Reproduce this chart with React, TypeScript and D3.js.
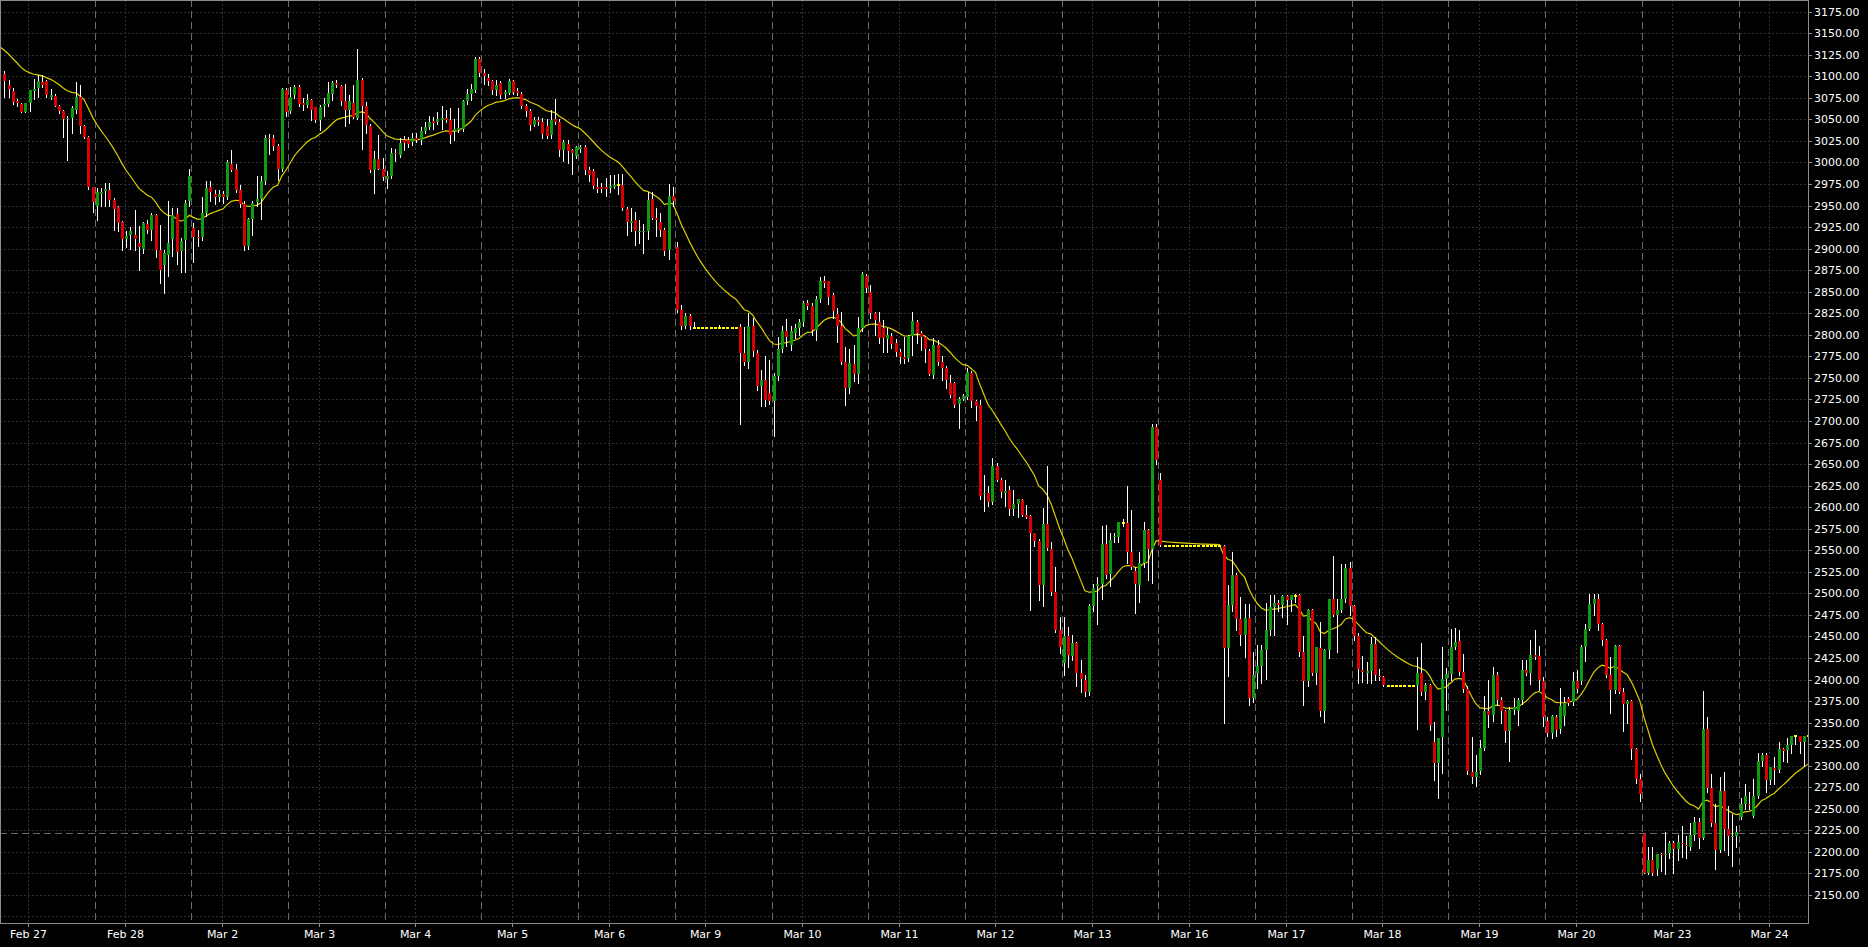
import React, { useEffect } from "react";
import * as d3 from "d3";

type Candle = [number, number, number, number]; // open, high, low, close

// ---------- DATA (hourly candles) ----------
const feb27: Candle[] = [
  [3103, 3106, 3076, 3095], [3090, 3096, 3076, 3085], [3083, 3086, 3068, 3070], [3071, 3074, 3066, 3069],
  [3068, 3069, 3059, 3059], [3059, 3069, 3059, 3069], [3069, 3084, 3060, 3084], [3083, 3097, 3074, 3085],
  [3087, 3101, 3076, 3095], [3093, 3101, 3088, 3090], [3094, 3096, 3076, 3078], [3076, 3085, 3074, 3078],
  [3077, 3079, 3066, 3066], [3066, 3067, 3058, 3060], [3060, 3061, 3030, 3050], [3050, 3054, 3003, 3052],
  [3052, 3065, 3034, 3063], [3061, 3093, 3058, 3076], [3076, 3090, 3034, 3042], [3042, 3043, 3028, 3030],
  [3030, 3031, 2969, 2972], [2971, 2972, 2942, 2954],
];
const feb28: Candle[] = [
  [2949, 2970, 2933, 2966], [2964, 2970, 2950, 2966], [2967, 2976, 2949, 2969], [2968, 2976, 2949, 2957],
  [2957, 2959, 2922, 2946], [2948, 2949, 2921, 2930], [2931, 2932, 2899, 2911], [2911, 2920, 2902, 2915],
  [2916, 2925, 2900, 2921], [2916, 2945, 2898, 2911], [2907, 2926, 2875, 2902], [2900, 2931, 2895, 2930],
  [2929, 2933, 2918, 2922], [2922, 2941, 2910, 2939], [2939, 2940, 2890, 2899], [2899, 2927, 2860, 2875],
  [2881, 2898, 2849, 2895], [2893, 2955, 2868, 2907], [2911, 2947, 2892, 2939], [2940, 2947, 2882, 2896],
  [2897, 2912, 2873, 2909], [2910, 2957, 2873, 2953], [2955, 2993, 2950, 2984],
];
const mar02: Candle[] = [
  [2924, 2930, 2885, 2914], [2914, 2922, 2903, 2912], [2914, 2960, 2910, 2941], [2941, 2978, 2938, 2970],
  [2971, 2978, 2955, 2966], [2964, 2968, 2952, 2960], [2960, 2968, 2955, 2963], [2964, 2967, 2953, 2960],
  [2960, 3003, 2958, 3000], [2998, 3015, 2990, 2991], [2992, 2998, 2966, 2968], [2968, 2974, 2948, 2952],
  [2952, 2955, 2898, 2903], [2903, 2936, 2900, 2934], [2935, 2955, 2916, 2953], [2954, 2984, 2950, 2958],
  [2958, 2984, 2935, 2978], [2978, 3032, 2975, 3029], [3029, 3033, 3010, 3027], [3029, 3032, 3015, 3019],
  [3019, 3022, 2980, 2993], [2993, 3086, 2990, 3085], [3084, 3086, 3054, 3059],
];
const mar03: Candle[] = [
  [3060, 3088, 3058, 3076], [3078, 3090, 3075, 3088], [3088, 3090, 3066, 3068], [3069, 3075, 3061, 3067],
  [3067, 3080, 3064, 3072], [3072, 3074, 3049, 3061], [3064, 3064, 3047, 3049], [3049, 3067, 3038, 3064],
  [3065, 3075, 3054, 3068], [3068, 3093, 3066, 3081], [3080, 3094, 3072, 3092], [3092, 3096, 3088, 3090],
  [3089, 3090, 3067, 3071], [3071, 3091, 3042, 3061], [3061, 3078, 3046, 3071], [3069, 3090, 3052, 3053],
  [3052, 3132, 3050, 3096], [3096, 3098, 3016, 3065], [3065, 3070, 3034, 3044], [3042, 3045, 2989, 2991],
  [2991, 3013, 2965, 3004], [3004, 3032, 2992, 2993], [2992, 3005, 2980, 2983],
];
const mar04: Candle[] = [
  [2981, 2990, 2970, 2984], [2984, 3017, 2982, 3011], [3011, 3016, 3002, 3010], [3009, 3028, 3006, 3023],
  [3026, 3031, 3015, 3023], [3026, 3030, 3018, 3022], [3024, 3034, 3020, 3029], [3029, 3034, 3024, 3026],
  [3026, 3041, 3022, 3036], [3036, 3047, 3034, 3041], [3041, 3054, 3039, 3047], [3048, 3053, 3039, 3046],
  [3047, 3059, 3045, 3051], [3049, 3066, 3039, 3052], [3052, 3061, 3047, 3049], [3049, 3063, 3023, 3032],
  [3036, 3051, 3026, 3039], [3038, 3063, 3035, 3040], [3039, 3072, 3037, 3071], [3071, 3085, 3068, 3080],
  [3080, 3091, 3072, 3085], [3084, 3123, 3082, 3120], [3120, 3123, 3100, 3104],
];
const mar05: Candle[] = [
  [3104, 3108, 3091, 3100], [3098, 3103, 3090, 3094], [3094, 3096, 3079, 3084], [3084, 3096, 3078, 3090],
  [3092, 3094, 3075, 3078], [3080, 3084, 3075, 3082], [3081, 3097, 3079, 3094], [3094, 3096, 3080, 3082],
  [3083, 3086, 3078, 3081], [3080, 3082, 3063, 3066], [3066, 3068, 3054, 3060], [3060, 3062, 3038, 3044],
  [3044, 3053, 3042, 3049], [3049, 3053, 3044, 3047], [3047, 3052, 3028, 3033], [3042, 3051, 3028, 3031],
  [3032, 3061, 3028, 3049], [3050, 3074, 3045, 3047], [3047, 3050, 3007, 3014], [3014, 3026, 3002, 3024],
  [3022, 3026, 2999, 3013], [3014, 3016, 2987, 3011], [3007, 3019, 3005, 3018],
];
const mar06: Candle[] = [
  [3016, 3020, 3012, 3018], [3018, 3020, 2987, 2991], [2991, 2995, 2978, 2985], [2990, 2992, 2970, 2973],
  [2972, 2982, 2966, 2969], [2971, 2976, 2966, 2969], [2972, 2982, 2961, 2969], [2970, 2985, 2966, 2973],
  [2972, 2985, 2970, 2974], [2974, 2987, 2964, 2974], [2974, 2987, 2945, 2947], [2946, 2948, 2916, 2931],
  [2930, 2947, 2920, 2932], [2933, 2943, 2904, 2921], [2919, 2933, 2907, 2921], [2919, 2929, 2895, 2921],
  [2920, 2966, 2911, 2957], [2958, 2966, 2935, 2936], [2936, 2947, 2915, 2933], [2931, 2941, 2915, 2922],
  [2922, 2924, 2893, 2897], [2898, 2975, 2888, 2961], [2961, 2971, 2950, 2955],
];
const mar09: Candle[] = [
  [2902, 2908, 2826, 2829], [2829, 2835, 2807, 2810], [2810, 2825, 2808, 2822], [2822, 2824, 2807, 2810],
  [2808.3, 2815, 2808.3, 2808.3], [2808.3, 2808.3, 2808.3, 2808.3], [2808.3, 2808.3, 2808.3, 2808.3],
  [2808.3, 2808.3, 2808.3, 2808.3], [2808.3, 2808.3, 2808.3, 2808.3], [2808.3, 2808.3, 2808.3, 2808.3],
  [2808.3, 2811, 2808.3, 2808.3], [2808.3, 2808.3, 2808.3, 2808.3], [2808.3, 2808.3, 2808.3, 2808.3],
  [2808.3, 2808.3, 2808.3, 2808.3], [2808.3, 2808.3, 2808.3, 2808.3],
  [2809.5, 2812, 2697, 2779], [2779, 2809, 2765, 2769], [2769, 2825, 2762, 2810], [2810, 2819, 2775, 2781],
  [2779, 2782, 2736, 2741], [2741, 2759, 2717, 2748], [2748, 2775, 2717, 2724], [2732, 2771, 2720, 2723],
];
const mar10: Candle[] = [
  [2723, 2756, 2683, 2752], [2752, 2798, 2748, 2784], [2784, 2810, 2780, 2804], [2804, 2818, 2787, 2798],
  [2788, 2810, 2782, 2804], [2802, 2812, 2796, 2808], [2808, 2818, 2800, 2815], [2815, 2839, 2810, 2837],
  [2837, 2840, 2830, 2834], [2834, 2837, 2800, 2806], [2806, 2845, 2794, 2842], [2842, 2867, 2838, 2863],
  [2862, 2868, 2855, 2860], [2862, 2863, 2836, 2844], [2846, 2848, 2819, 2828], [2824, 2831, 2792, 2810],
  [2810, 2827, 2766, 2769], [2769, 2786, 2718, 2738], [2738, 2784, 2732, 2767], [2766, 2788, 2746, 2755],
  [2755, 2821, 2744, 2808], [2808, 2873, 2805, 2871], [2868, 2871, 2850, 2854],
];
const mar11: Candle[] = [
  [2850, 2858, 2820, 2825], [2825, 2827, 2800, 2817], [2815, 2827, 2790, 2796], [2808, 2817, 2780, 2796],
  [2795, 2808, 2780, 2800], [2799, 2802, 2785, 2789], [2790, 2795, 2775, 2780], [2780, 2783, 2767, 2774],
  [2774, 2797, 2767, 2772], [2773, 2800, 2770, 2799], [2799, 2826, 2777, 2816], [2815, 2817, 2790, 2802],
  [2802, 2804, 2782, 2797], [2797, 2799, 2768, 2783], [2781, 2783, 2753, 2755], [2753, 2796, 2750, 2788],
  [2788, 2794, 2765, 2769], [2769, 2776, 2748, 2762], [2762, 2764, 2738, 2748], [2744, 2753, 2728, 2730],
  [2744, 2745, 2716, 2719], [2720, 2728, 2692, 2726], [2726, 2731, 2724, 2729],
];
const mar12: Candle[] = [
  [2728, 2762, 2726, 2757], [2756, 2758, 2716, 2723], [2723, 2724, 2701, 2717], [2718, 2724, 2610, 2613],
  [2616, 2637, 2595, 2617], [2617, 2625, 2601, 2606], [2606, 2657, 2604, 2648], [2648, 2651, 2630, 2632],
  [2632, 2634, 2612, 2618], [2617, 2632, 2601, 2619], [2620, 2624, 2591, 2598], [2598, 2620, 2591, 2604],
  [2604, 2610, 2589, 2609], [2608, 2610, 2590, 2591], [2591, 2603, 2588, 2589], [2590, 2591, 2481, 2570],
  [2570, 2570, 2555, 2561], [2561, 2563, 2492, 2510], [2510, 2599, 2485, 2581], [2581, 2648, 2550, 2553],
  [2551, 2560, 2498, 2501], [2501, 2530, 2455, 2458], [2458, 2473, 2431, 2438],
];
const mar13: Candle[] = [
  [2419, 2473, 2405, 2450], [2450, 2461, 2415, 2428], [2427, 2452, 2423, 2442], [2442, 2444, 2392, 2407],
  [2407, 2423, 2386, 2401], [2400, 2405, 2381, 2386], [2385, 2488, 2382, 2485], [2485, 2511, 2480, 2506],
  [2508, 2519, 2465, 2511], [2511, 2578, 2494, 2557], [2557, 2579, 2518, 2521], [2522, 2570, 2508, 2562],
  [2565, 2570, 2560, 2567], [2565, 2583, 2560, 2583], [2582, 2586, 2578, 2582], [2582, 2625, 2535, 2548],
  [2548, 2597, 2528, 2530], [2526, 2530, 2477, 2511], [2510, 2548, 2490, 2535], [2535, 2583, 2530, 2574],
  [2574, 2575, 2515, 2551], [2551, 2696, 2512, 2693], [2693, 2697, 2650, 2655],
];
const mar16: Candle[] = [
  [2632, 2640, 2555, 2556],
  [2555.3, 2555.3, 2555.3, 2555.3], [2555.3, 2555.3, 2555.3, 2555.3], [2555.3, 2555.3, 2555.3, 2555.3],
  [2555.3, 2555.3, 2555.3, 2555.3], [2555.3, 2555.3, 2555.3, 2555.3], [2555.3, 2555.3, 2555.3, 2555.3],
  [2555.3, 2555.3, 2555.3, 2555.3], [2555.3, 2555.3, 2555.3, 2555.3], [2555.3, 2555.3, 2555.3, 2555.3],
  [2555.3, 2555.3, 2555.3, 2555.3], [2555.3, 2555.3, 2555.3, 2555.3], [2555.3, 2555.3, 2555.3, 2555.3],
  [2555.3, 2555.3, 2555.3, 2555.3], [2555.3, 2555.3, 2555.3, 2555.3],
  [2555.3, 2556, 2350, 2436], [2436, 2510, 2404, 2487], [2487, 2548, 2480, 2521], [2521, 2524, 2458, 2470],
  [2470, 2496, 2440, 2452], [2452, 2488, 2426, 2471], [2471, 2488, 2370, 2378], [2378, 2432, 2374, 2405],
];
const mar17: Candle[] = [
  [2408, 2440, 2390, 2416], [2416, 2440, 2396, 2434], [2434, 2489, 2401, 2458], [2458, 2498, 2452, 2484],
  [2484, 2498, 2452, 2489], [2489, 2492, 2480, 2487], [2487, 2498, 2473, 2497], [2497, 2498, 2465, 2492],
  [2492, 2498, 2480, 2498], [2497, 2499, 2490, 2497], [2498, 2499, 2427, 2432], [2432, 2450, 2370, 2398],
  [2398, 2482, 2392, 2481], [2481, 2482, 2405, 2407], [2407, 2438, 2395, 2438], [2437, 2467, 2358, 2364],
  [2364, 2435, 2351, 2434], [2434, 2494, 2425, 2493], [2493, 2543, 2474, 2475], [2475, 2494, 2432, 2481],
  [2481, 2534, 2478, 2494], [2494, 2534, 2490, 2529], [2529, 2536, 2475, 2485],
];
const mar18: Candle[] = [
  [2485, 2487, 2446, 2451], [2451, 2454, 2396, 2412], [2411, 2427, 2397, 2409], [2407, 2420, 2396, 2410],
  [2410, 2449, 2396, 2441], [2441, 2449, 2400, 2405], [2404, 2412, 2400, 2403], [2403, 2404, 2393, 2394],
  [2392.9, 2392.9, 2392.9, 2392.9], [2392.9, 2392.9, 2392.9, 2392.9], [2392.9, 2392.9, 2392.9, 2392.9],
  [2392.9, 2392.9, 2392.9, 2392.9], [2392.9, 2392.9, 2392.9, 2392.9], [2392.9, 2392.9, 2392.9, 2392.9],
  [2392.9, 2392.9, 2392.9, 2392.9],
  [2394, 2426, 2343, 2407], [2407, 2442, 2382, 2386], [2386, 2396, 2377, 2394], [2394, 2395, 2341, 2347],
  [2328, 2351, 2283, 2303], [2303, 2332, 2262, 2332], [2333, 2438, 2291, 2401], [2401, 2413, 2365, 2406],
];
const mar19: Candle[] = [
  [2406, 2459, 2400, 2438], [2438, 2460, 2435, 2444], [2445, 2458, 2405, 2409], [2409, 2430, 2385, 2389],
  [2389, 2392, 2290, 2294], [2293, 2333, 2280, 2287], [2287, 2312, 2276, 2293], [2294, 2330, 2290, 2320],
  [2320, 2381, 2318, 2363], [2363, 2399, 2345, 2359], [2359, 2415, 2352, 2405], [2405, 2409, 2370, 2376],
  [2376, 2380, 2350, 2363], [2363, 2365, 2327, 2340], [2340, 2368, 2306, 2365], [2365, 2378, 2360, 2368],
  [2364, 2378, 2347, 2376], [2376, 2423, 2372, 2411], [2411, 2423, 2405, 2407], [2407, 2446, 2395, 2429],
  [2429, 2458, 2424, 2426], [2427, 2439, 2388, 2400], [2398, 2403, 2346, 2356],
];
const mar20: Candle[] = [
  [2352, 2357, 2335, 2338], [2338, 2359, 2332, 2358], [2357, 2359, 2334, 2341], [2342, 2390, 2338, 2369],
  [2358, 2380, 2347, 2373], [2377, 2380, 2370, 2373], [2374, 2409, 2370, 2398], [2398, 2411, 2385, 2389],
  [2398, 2440, 2395, 2438], [2438, 2465, 2422, 2459], [2459, 2499, 2457, 2488], [2488, 2499, 2475, 2493],
  [2493, 2499, 2457, 2465], [2464, 2466, 2440, 2446], [2446, 2447, 2403, 2405], [2405, 2426, 2361, 2388],
  [2388, 2440, 2384, 2439], [2439, 2440, 2384, 2386], [2386, 2390, 2340, 2372], [2372, 2376, 2349, 2375],
  [2375, 2376, 2308, 2319], [2319, 2320, 2280, 2285], [2285, 2290, 2259, 2267],
];
const mar23: Candle[] = [
  [2221, 2221, 2175, 2175], [2175, 2206, 2174, 2191], [2191, 2206, 2173, 2175], [2180, 2198, 2173, 2198],
  [2198, 2199, 2178, 2196], [2196, 2223, 2174, 2198], [2199, 2213, 2193, 2210], [2210, 2213, 2175, 2203],
  [2203, 2219, 2191, 2212], [2210, 2230, 2194, 2209], [2208, 2218, 2193, 2207], [2206, 2234, 2202, 2220],
  [2220, 2240, 2214, 2235], [2235, 2239, 2204, 2216], [2216, 2387, 2215, 2343], [2342, 2356, 2270, 2274],
  [2274, 2290, 2230, 2233], [2233, 2256, 2180, 2202], [2202, 2287, 2200, 2271], [2271, 2293, 2202, 2226],
  [2226, 2253, 2196, 2218], [2217, 2244, 2184, 2218], [2218, 2230, 2206, 2223],
];
const mar24: Candle[] = [
  [2241, 2263, 2238, 2256], [2256, 2279, 2250, 2265], [2256, 2270, 2250, 2254], [2242, 2284, 2240, 2265],
  [2265, 2315, 2262, 2305], [2305, 2315, 2300, 2312], [2312, 2315, 2270, 2283], [2283, 2299, 2279, 2298],
  [2297, 2310, 2279, 2295], [2295, 2328, 2293, 2319], [2319, 2320, 2305, 2317], [2318, 2332, 2304, 2324],
  [2324, 2334, 2315, 2334], [2334, 2335, 2325, 2334], [2335, 2335, 2315, 2328], [2328, 2335, 2300, 2334],
  [2334, 2334, 2322, 2334],
];

const dayLabels = [
  "Feb 27", "Feb 28", "Mar 2", "Mar 3", "Mar 4", "Mar 5", "Mar 6", "Mar 9", "Mar 10", "Mar 11",
  "Mar 12", "Mar 13", "Mar 16", "Mar 17", "Mar 18", "Mar 19", "Mar 20", "Mar 23", "Mar 24",
];
const days: Candle[][] = [
  feb27, feb28, mar02, mar03, mar04, mar05, mar06, mar09, mar10, mar11,
  mar12, mar13, mar16, mar17, mar18, mar19, mar20, mar23, mar24,
];
const yTickValues = d3.range(2150, 3176, 25);
const yGridValues = d3.range(2125, 3176, 25);
const priceLine = 2221.5;
const maPeriod = 20;
const maEntryValue = 3134; // MA level entering the visible window

// ---------- LAYOUT ----------
const W = 1868;
const H = 947;
const PLOT_R = 1808;
const PLOT_B = 923;
const BARS_PER_DAY = 23;
const BAR_STEP = 96.7 / 23;
const FIRST_X = 4.3;

const COLORS = {
  bg: "#000000",
  frame: "#8c8c8c",
  grid: "#333333",
  sep: "#6a6a6a",
  text: "#ffffff",
  up: "#109a10",
  down: "#d80000",
  wick: "#ffffff",
  flat: "#ffff00",
  ma: "#dcd000",
};

export default function App() {
  useEffect(() => {
    document.body.style.margin = "0";
    document.body.style.background = "#000";
  }, []);

  const candles: Candle[] = days.flat();
  const n = candles.length;
  const hiddenFirst = BARS_PER_DAY - feb27.length;
  const dayStarts: number[] = [];
  let acc = -hiddenFirst;
  for (const d of days) {
    dayStarts.push(acc);
    acc += d === feb27 ? BARS_PER_DAY : d.length;
  }

  const x = d3.scaleLinear().domain([0, n - 1]).range([FIRST_X, FIRST_X + (n - 1) * BAR_STEP]);
  const y = d3.scaleLinear().domain([3175, 2150]).range([11.7, 11.7 + 1025 * 0.8617]);

  // EMA of closes
  const alpha = 2 / (maPeriod + 1);
  const ma: [number, number][] = [[-1, maEntryValue]];
  let e = maEntryValue;
  candles.forEach((c, i) => {
    e = e + alpha * (c[3] - e);
    ma.push([i, e]);
  });
  const maPath = d3
    .line<[number, number]>()
    .x((d) => x(d[0]))
    .y((d) => y(d[1]))(ma) as string;

  const sepX = (s: number) => x(s) - BAR_STEP / 2;
  const labelX = (s: number) => sepX(s) + 30.5;

  return (
    <svg
      width={W}
      height={H}
      style={{ position: "absolute", left: 0, top: 0, background: COLORS.bg, display: "block" }}
      fontFamily="'DejaVu Sans', Verdana, sans-serif"
      fontSize={11}
    >
      <defs>
        <clipPath id="plot">
          <rect x={0} y={0} width={PLOT_R} height={PLOT_B} />
        </clipPath>
      </defs>
      <rect x={0} y={0} width={W} height={H} fill={COLORS.bg} />

      {/* horizontal grid */}
      {yGridValues.map((v) => (
        <line
          key={"hg" + v}
          x1={0}
          x2={PLOT_R}
          y1={Math.round(y(v)) + 0.5}
          y2={Math.round(y(v)) + 0.5}
          stroke={COLORS.grid}
          strokeDasharray="2 2"
        />
      ))}
      {/* vertical dotted grid at date labels */}
      {dayStarts.map((s, k) => (
        <line
          key={"vg" + k}
          x1={Math.round(labelX(s)) + 0.5}
          x2={Math.round(labelX(s)) + 0.5}
          y1={0}
          y2={PLOT_B}
          stroke={COLORS.grid}
          strokeDasharray="2 2"
        />
      ))}
      {/* day separators */}
      {dayStarts.slice(1).map((s, k) => (
        <line
          key={"sep" + k}
          x1={Math.round(sepX(s)) + 0.5}
          x2={Math.round(sepX(s)) + 0.5}
          y1={0}
          y2={PLOT_B}
          stroke={COLORS.sep}
          strokeDasharray="7 4"
        />
      ))}
      {/* price line */}
      <line
        x1={0}
        x2={PLOT_R}
        y1={Math.round(y(priceLine)) + 0.5}
        y2={Math.round(y(priceLine)) + 0.5}
        stroke={COLORS.sep}
        strokeDasharray="7 4"
      />

      <g clipPath="url(#plot)">
        {/* MA */}
        <path d={maPath} fill="none" stroke={COLORS.ma} strokeWidth={1.2} />
        {/* candles */}
        {candles.map((c, i) => {
          const [o, h, l, cl] = c;
          const cx = Math.round(x(i));
          const flat = o === cl;
          const top = Math.round(y(Math.max(o, cl)));
          const bot = Math.round(y(Math.min(o, cl)));
          return (
            <g key={i}>
              {h !== l && (
                <line
                  x1={cx + 0.5}
                  x2={cx + 0.5}
                  y1={Math.round(y(h))}
                  y2={Math.round(y(l)) + 1}
                  stroke={COLORS.wick}
                  strokeWidth={1}
                />
              )}
              {flat ? (
                <rect x={cx - 1} y={top - 1} width={3} height={2} fill={COLORS.flat} />
              ) : (
                <rect
                  x={cx - 1}
                  y={top}
                  width={3}
                  height={Math.max(1, bot - top)}
                  fill={cl > o ? COLORS.up : COLORS.down}
                />
              )}
            </g>
          );
        })}
      </g>

      {/* frame */}
      <line x1={0.5} x2={0.5} y1={0} y2={PLOT_B} stroke={COLORS.frame} />
      <line x1={0} x2={PLOT_R} y1={0.5} y2={0.5} stroke={COLORS.frame} />
      <line x1={PLOT_R + 0.5} x2={PLOT_R + 0.5} y1={0} y2={PLOT_B + 1} stroke={COLORS.frame} />
      <line x1={0} x2={PLOT_R + 1} y1={PLOT_B + 0.5} y2={PLOT_B + 0.5} stroke={COLORS.frame} />

      {/* y axis */}
      {yTickValues.map((v) => {
        const yy = Math.round(y(v)) + 0.5;
        return (
          <g key={"yt" + v}>
            <line x1={PLOT_R} x2={PLOT_R + 4} y1={yy} y2={yy} stroke={COLORS.frame} />
            <text x={PLOT_R + 6} y={yy} dy="0.35em" fill={COLORS.text}>
              {v.toFixed(2)}
            </text>
          </g>
        );
      })}

      {/* x axis */}
      {dayStarts.map((s, k) => {
        const xx = Math.round(labelX(s)) + 0.5;
        return (
          <g key={"xt" + k}>
            <line x1={xx} x2={xx} y1={PLOT_B} y2={PLOT_B + 4} stroke={COLORS.frame} />
            <text x={xx} y={938} textAnchor="middle" fill={COLORS.text}>
              {dayLabels[k]}
            </text>
          </g>
        );
      })}
    </svg>
  );
}
